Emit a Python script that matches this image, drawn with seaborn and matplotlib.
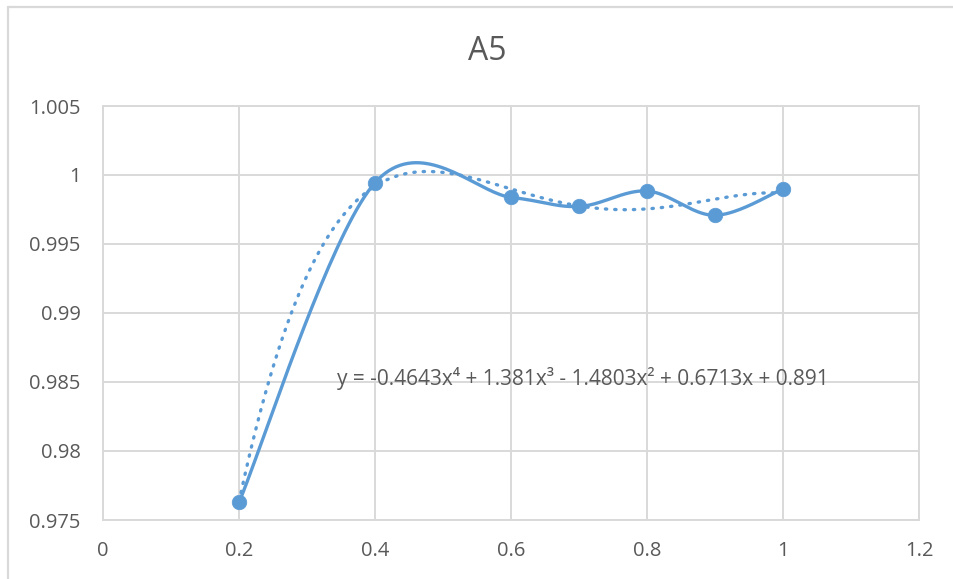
"""A5 ratio chart with smoothed line and 4th order polynomial trendline."""

import numpy as np
import pandas as pd
import matplotlib
matplotlib.use("Agg")
import matplotlib.pyplot as plt
from matplotlib.lines import Line2D
import seaborn as sns

# data
x_vals = [0.2, 0.4, 0.6, 0.7, 0.8, 0.9, 1.0]
y_vals = [0.97628, 0.99944, 0.99838, 0.99772, 0.99884, 0.99708, 0.99899]
x_ticks = [0, 0.2, 0.4, 0.6, 0.8, 1.0, 1.2]
x_tick_labels = ["0", "0.2", "0.4", "0.6", "0.8", "1", "1.2"]
y_ticks = [0.975, 0.98, 0.985, 0.99, 0.995, 1.0, 1.005]
y_tick_labels = ["0.975", "0.98", "0.985", "0.99", "0.995", "1", "1.005"]
title = "A5"
equation = "y = -0.4643x\u2074 + 1.381x\u00b3 - 1.4803x\u00b2 + 0.6713x + 0.891"

BLUE = "#5B9BD5"
GRID = "#D9D9D9"
TEXT = "#595959"


def smooth_curve(xs, ys, steps=40):
    """Excel-like smoothed line (Catmull-Rom style bezier segments)."""
    pts = np.column_stack([xs, ys])
    out = []
    n = len(pts)
    for i in range(n - 1):
        p0 = pts[max(i - 1, 0)]
        p1 = pts[i]
        p2 = pts[i + 1]
        p3 = pts[min(i + 2, n - 1)]
        c1 = p1 + (p2 - p0) / 6
        c2 = p2 - (p3 - p1) / 6
        t = np.linspace(0, 1, steps)[:, None]
        seg = ((1 - t) ** 3 * p1 + 3 * (1 - t) ** 2 * t * c1
               + 3 * (1 - t) * t ** 2 * c2 + t ** 3 * p2)
        out.append(seg if i == 0 else seg[1:])
    out = np.vstack(out)
    return out[:, 0], out[:, 1]


sns.set_theme(style="white")
plt.rcParams["font.family"] = ["Open Sans", "DejaVu Sans"]

fig = plt.figure(figsize=(9.54, 5.79), dpi=100)
ax = fig.add_axes([103 / 954, 1 - 520 / 579, (919 - 103) / 954, (520 - 106) / 579])

df = pd.DataFrame({"x": x_vals, "y": y_vals})

# polynomial trendline
coef = np.polyfit(df["x"], df["y"], 4)
tx = np.linspace(min(x_vals), max(x_vals), 300)
trend = pd.DataFrame({"x": tx, "y": np.polyval(coef, tx)})
sns.lineplot(data=trend, x="x", y="y", ax=ax, color=BLUE, lw=2.4,
             linestyle=(0, (0.4, 2.4)), dash_capstyle="round", sort=False, zorder=3)

# smoothed series line
sx, sy = smooth_curve(np.array(x_vals), np.array(y_vals))
smooth = pd.DataFrame({"x": sx, "y": sy})
sns.lineplot(data=smooth, x="x", y="y", ax=ax, color=BLUE, lw=2.4,
             sort=False, zorder=4)
sns.scatterplot(data=df, x="x", y="y", ax=ax, color=BLUE, s=110,
                edgecolor=BLUE, linewidth=0.5, zorder=5)

ax.set_xlim(0, 1.2)
ax.set_ylim(0.975, 1.005)
ax.set_xticks(x_ticks)
ax.set_xticklabels(x_tick_labels)
ax.set_yticks(y_ticks)
ax.set_yticklabels(y_tick_labels)
ax.grid(True, color=GRID, lw=1.4)
ax.set_axisbelow(True)
for side in ax.spines:
    ax.spines[side].set_color(GRID)
    ax.spines[side].set_linewidth(1.4)
ax.tick_params(axis="both", length=0, labelsize=14.5, colors=TEXT)
ax.tick_params(axis="x", pad=15)
ax.tick_params(axis="y", pad=16)
ax.set_xlabel("")
ax.set_ylabel("")

fig.text(487 / 954, 1 - 52 / 579, title, ha="center", va="center",
         fontsize=23, color=TEXT)
ax.text(0.344, 0.98525, equation, ha="left", va="center",
        fontsize=15, color=TEXT, zorder=6)

# chart area border (left and top only visible)
fig.add_artist(Line2D([8.5 / 954, 8.5 / 954], [0, 1 - 6.5 / 579],
                      color=GRID, lw=1.6, transform=fig.transFigure))
fig.add_artist(Line2D([8.5 / 954, 1], [1 - 6.5 / 579, 1 - 6.5 / 579],
                      color=GRID, lw=1.6, transform=fig.transFigure))

fig.savefig("out.png", dpi=100)
